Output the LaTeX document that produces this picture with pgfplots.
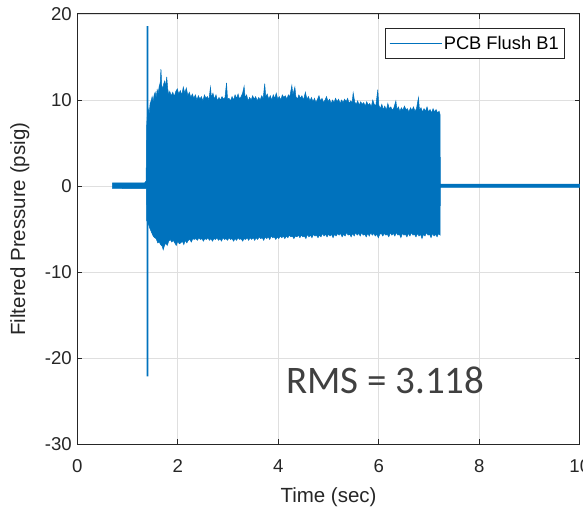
\documentclass[border=0pt]{standalone}
\usepackage{pgfplots}
\pgfplotsset{compat=1.18}
\usepackage{fontspec}
\setmainfont{Liberation Sans}
\newfontfamily\rmsfont{Carlito}
\definecolor{mblue}{RGB}{0,114,189}
\definecolor{axgray}{RGB}{38,38,38}
\definecolor{gridgray}{RGB}{223,223,223}
\definecolor{txtgray}{RGB}{64,64,64}

\begin{document}
\begin{tikzpicture}
\begin{axis}[
  name=ax,
  scale only axis, width=502.5bp, height=430.3bp,
  xmin=0, xmax=10, ymin=-30, ymax=20,
  xtick={0,2,4,6,8,10}, xticklabels={0,2,4,6,8,10},
  ytick={-30,-20,-10,0,10,20}, yticklabels={-30,-20,-10,0,10,20},
  tick align=inside, major tick length=5bp,
  grid=major, major grid style={gridgray, line width=0.8bp},
  axis line style={axgray, line width=1bp},
  every tick/.style={axgray, line width=1bp},
  tick label style={font=\fontsize{18.6bp}{22bp}\selectfont, text=axgray},
  xticklabel style={yshift=-12bp},
  yticklabel style={xshift=-2bp},
  label style={font=\fontsize{20.5bp}{24bp}\selectfont, text=axgray},
  xlabel={Time (sec)}, ylabel={Filtered Pressure (psig)},
  xlabel style={at={(axis description cs:0.5,-0.1364)}, anchor=base},
  ylabel style={at={(axis description cs:-0.104,0.5)}, anchor=base},
  legend style={at={(0.9706,0.9668)}, anchor=north east, draw=axgray,
    line width=0.6bp, fill=white,
    font=\fontsize{18.3bp}{22bp}\selectfont,
    inner xsep=4bp, inner ysep=5.5bp, cells={anchor=west}},
  legend image code/.code={%
    \path (-7bp,0bp) -- (45bp,0bp);
    \color{mblue}%
    \pgfsetfillcolor{mblue}%
    \fill[fill=mblue, draw=none] (-1bp,-0.55bp) rectangle (43bp,0.55bp);},
]
\addlegendimage{color=mblue, fill=mblue}
\addlegendentry{PCB Flush B1}

% recorded pressure trace: quiet lead-in, flush burst, quiet tail
\addplot[forget plot, draw=mblue, fill=mblue, line width=0.5bp] coordinates {
(0.70,0.38) (1.34,0.38) (1.37,0.6)
(1.380,6.9) (1.395,8.3) (1.410,9.0) (1.430,8.4) (1.450,9.6) (1.470,9.9)
(1.490,10.4) (1.510,9.8) (1.530,10.6) (1.550,10.9) (1.570,10.3) (1.590,11.2)
(1.610,10.8) (1.630,11.6) (1.650,12.0) (1.665,13.6) (1.680,11.8) (1.700,11.2)
(1.720,11.9) (1.740,12.2) (1.760,11.6) (1.780,12.7) (1.800,11.3) (1.820,10.6)
(1.84,11.0) (1.87,10.5) (1.90,10.9) (1.93,10.4) (1.96,11.0) (1.99,11.3)
(2.02,10.7) (2.05,11.1) (2.08,10.6) (2.11,11.5) (2.14,10.8) (2.17,11.4)
(2.20,10.5) (2.23,10.9) (2.26,10.3) (2.29,10.7)
(2.32,10.2) (2.35,10.6) (2.38,10.0) (2.41,10.5) (2.44,10.1) (2.47,10.4)
(2.50,9.9) (2.53,10.6) (2.56,10.2) (2.59,10.4) (2.62,10.0) (2.65,11.5)
(2.67,10.3) (2.70,10.8) (2.73,10.1) (2.76,10.6) (2.79,9.9) (2.82,10.3)
(2.85,10.0) (2.88,10.4) (2.91,10.1) (2.94,10.3) (2.97,12.0) (2.99,10.1)
(3.02,10.2) (3.05,9.9) (3.08,10.4) (3.11,10.0) (3.14,10.6) (3.17,10.2)
(3.20,10.7) (3.23,10.1) (3.26,10.4) (3.29,10.8) (3.32,11.6) (3.34,10.3)
(3.37,10.6) (3.40,9.9) (3.43,10.3) (3.46,10.0) (3.49,10.5) (3.52,10.1)
(3.55,10.4) (3.58,9.9) (3.61,10.3) (3.64,10.0) (3.67,10.5) (3.70,10.2)
(3.73,11.9) (3.75,10.4) (3.78,10.7) (3.81,10.1) (3.84,10.5) (3.87,10.0)
(3.90,10.6) (3.93,10.2) (3.96,10.8) (3.99,10.1) (4.02,10.4) (4.05,10.0)
(4.08,10.6) (4.11,10.3) (4.14,10.5) (4.17,10.1) (4.20,10.6)
(4.23,10.4) (4.27,11.7) (4.29,10.6) (4.33,11.5) (4.35,10.4) (4.38,10.1)
(4.41,10.6) (4.44,10.2) (4.47,10.5) (4.50,10.0) (4.54,10.9) (4.57,10.1)
(4.60,10.4)
(4.63,9.9) (4.66,10.3) (4.69,9.8) (4.72,10.2) (4.75,9.7) (4.78,10.1)
(4.81,10.5) (4.84,9.9) (4.87,10.2) (4.90,9.7) (4.93,10.0) (4.96,10.4)
(4.99,9.8) (5.02,10.1) (5.05,9.6) (5.08,10.0) (5.11,9.7) (5.14,10.2)
(5.17,9.8) (5.20,10.1) (5.23,9.6) (5.26,10.0) (5.29,9.7) (5.32,10.1)
(5.35,9.8) (5.38,10.2) (5.41,9.6) (5.44,9.9) (5.47,9.7) (5.49,10.85)
(5.52,9.8)
(5.55,9.5) (5.58,9.9) (5.61,9.4) (5.64,9.8) (5.67,9.5) (5.70,9.7)
(5.73,9.3) (5.76,9.8) (5.79,9.4) (5.82,9.6) (5.85,9.2) (5.88,10.0)
(5.91,9.5) (5.94,9.3) (5.98,11.2) (6.00,9.4)
(6.03,9.0) (6.06,9.5) (6.09,8.9) (6.12,9.3) (6.15,8.8) (6.18,9.6)
(6.21,9.0) (6.24,9.2) (6.27,8.8) (6.30,9.1) (6.34,9.9) (6.36,8.9)
(6.39,9.2) (6.42,8.7) (6.45,9.1) (6.48,8.8) (6.51,9.3) (6.54,8.9)
(6.57,9.0) (6.60,8.6) (6.63,9.1) (6.66,8.8) (6.69,9.2) (6.72,8.7)
(6.75,9.0) (6.79,10.3) (6.81,8.8) (6.84,9.1) (6.87,8.6) (6.90,9.0)
(6.93,8.7) (6.96,9.2) (6.99,8.6) (7.02,8.9) (7.05,8.5) (7.08,9.0)
(7.11,8.6) (7.14,8.9) (7.17,8.5) (7.20,8.7) (7.22,8.3)
(7.225,0.22) (10,0.22) (10,-0.14) (7.225,-0.14)
(7.22,-5.7) (7.19,-5.5) (7.16,-5.9) (7.13,-5.6) (7.10,-5.8) (7.07,-5.5)
(7.04,-6.0) (7.01,-5.6) (6.98,-5.7) (6.95,-5.4) (6.92,-5.8) (6.89,-5.6)
(6.86,-6.1) (6.83,-5.6) (6.80,-5.8) (6.77,-5.5) (6.74,-5.9) (6.71,-5.6)
(6.68,-5.7) (6.65,-5.4) (6.62,-5.8) (6.59,-5.5) (6.56,-5.9) (6.53,-5.6)
(6.50,-5.7) (6.47,-5.5) (6.44,-6.0) (6.41,-5.6) (6.38,-5.7) (6.35,-5.4)
(6.32,-5.8) (6.29,-5.5) (6.26,-5.7) (6.23,-5.4) (6.20,-5.9) (6.17,-5.6)
(6.14,-5.7) (6.11,-5.5) (6.08,-5.8) (6.05,-5.5) (6.02,-5.6) (5.99,-6.0)
(5.96,-5.6) (5.93,-5.8) (5.90,-5.5) (5.87,-5.7) (5.84,-5.4) (5.81,-5.8)
(5.78,-5.5) (5.75,-5.9) (5.72,-5.6) (5.69,-5.7) (5.66,-5.4) (5.63,-5.8)
(5.60,-5.5) (5.57,-5.7) (5.54,-5.4) (5.51,-5.8) (5.48,-5.5) (5.45,-5.9)
(5.42,-5.6) (5.39,-5.7) (5.36,-5.4) (5.33,-5.8) (5.30,-5.6) (5.27,-5.9)
(5.24,-5.5) (5.21,-5.7) (5.18,-5.5) (5.15,-5.8) (5.12,-5.6) (5.09,-6.0)
(5.06,-5.6) (5.03,-5.8) (5.00,-5.6) (4.97,-5.9) (4.94,-5.6) (4.91,-5.8)
(4.88,-5.5) (4.85,-5.9) (4.82,-5.7) (4.79,-6.0) (4.76,-5.7) (4.73,-5.8)
(4.70,-5.6) (4.67,-6.0) (4.64,-5.7) (4.61,-5.9) (4.58,-5.6) (4.55,-6.1)
(4.52,-5.8) (4.49,-5.9) (4.46,-5.7) (4.43,-6.0) (4.40,-5.7) (4.37,-5.9)
(4.34,-5.8) (4.31,-6.1) (4.28,-5.8) (4.25,-5.9) (4.22,-5.7) (4.19,-6.0)
(4.16,-5.8) (4.13,-6.1) (4.10,-5.8) (4.07,-6.0) (4.04,-5.8) (4.01,-6.1)
(3.98,-5.9) (3.95,-6.2) (3.92,-5.9) (3.89,-6.0) (3.86,-5.8) (3.83,-6.2)
(3.80,-5.9) (3.77,-6.1) (3.74,-5.9) (3.71,-6.3) (3.68,-6.0) (3.65,-6.1)
(3.62,-5.9) (3.59,-6.2) (3.56,-6.0) (3.53,-6.3) (3.50,-6.0) (3.47,-6.2)
(3.44,-6.0) (3.41,-6.3) (3.38,-6.0) (3.35,-6.2) (3.32,-6.1) (3.29,-6.4)
(3.26,-6.1) (3.23,-6.2) (3.20,-6.0) (3.17,-6.3) (3.14,-6.1) (3.11,-6.4)
(3.08,-6.1) (3.05,-6.2) (3.02,-6.0) (2.99,-6.3) (2.96,-6.1) (2.93,-6.2)
(2.90,-6.0) (2.87,-6.4) (2.84,-6.1) (2.81,-6.3) (2.78,-6.0) (2.75,-6.2)
(2.72,-6.1) (2.69,-6.4) (2.66,-6.1) (2.63,-6.3) (2.60,-6.0) (2.57,-6.2)
(2.54,-6.1) (2.51,-6.4) (2.48,-6.1) (2.45,-6.2) (2.42,-6.0) (2.39,-6.3)
(2.36,-6.1) (2.33,-6.2) (2.30,-6.1) (2.27,-6.5) (2.24,-6.2) (2.21,-6.3)
(2.18,-6.6) (2.15,-6.3) (2.12,-6.8) (2.09,-6.4) (2.06,-6.6) (2.03,-6.7)
(2.00,-6.4) (1.97,-6.9) (1.94,-6.6) (1.91,-6.3) (1.88,-6.5) (1.85,-6.2)
(1.82,-6.4) (1.79,-6.9) (1.76,-6.6) (1.73,-7.0) (1.71,-7.4) (1.69,-7.0)
(1.66,-6.8) (1.63,-6.5) (1.60,-6.6) (1.57,-6.1) (1.54,-6.0) (1.51,-5.8)
(1.48,-5.4) (1.45,-5.0) (1.42,-4.5) (1.40,-4.2) (1.38,-4.0)
(1.375,-0.3) (0.70,-0.27) (0.70,0.38)
};

% impact transient at the start of the flush (a 2-px wide stroke)
\addplot[forget plot, draw=none, fill=mblue] coordinates {
(1.378,18.6) (1.416,18.6) (1.416,-22.1) (1.378,-22.1) (1.378,18.6)};

\node[anchor=base west, inner sep=0pt, text=txtgray,
  font=\rmsfont\fontsize{39bp}{44bp}\selectfont] at (axis cs:4.15,-24.1) {RMS = 3.118};

\coordinate (bbsw) at (rel axis cs:-0.1538,-0.148);
\coordinate (bbne) at (rel axis cs:1.0064,1.0325);
\end{axis}
\pgfresetboundingbox
\useasboundingbox (bbsw) rectangle (bbne);
\end{tikzpicture}
\end{document}
